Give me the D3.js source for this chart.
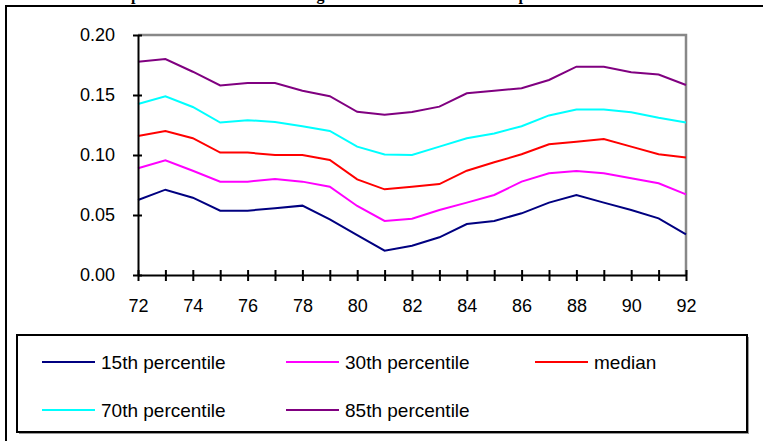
<!DOCTYPE html>
<html><head><meta charset="utf-8">
<script src="https://cdn.jsdelivr.net/npm/d3@7"></script>
<style>body{margin:0;background:#fff;} svg{display:block;}</style>
</head><body>
<svg id="c" width="763" height="441"></svg>
<script>
const years = d3.range(72, 93);
const p15 = [0.0625,0.0711,0.0644,0.0536,0.0536,0.0556,0.0578,0.0464,0.0333,0.0203,0.0244,0.0314,0.0425,0.0450,0.0514,0.0603,0.0667,0.0603,0.0542,0.0472,0.0339];
const p30 = [0.0889,0.0956,0.0869,0.0778,0.0778,0.0800,0.0778,0.0736,0.0575,0.0450,0.0469,0.0542,0.0603,0.0667,0.0778,0.0847,0.0867,0.0847,0.0806,0.0764,0.0672];
const pMed = [0.1158,0.1200,0.1140,0.1020,0.1020,0.1000,0.1000,0.0958,0.0797,0.0714,0.0736,0.0758,0.0869,0.0939,0.1006,0.1090,0.1110,0.1133,0.1070,0.1006,0.0980];
const p70 = [0.1425,0.1490,0.1400,0.1270,0.1290,0.1275,0.1240,0.1200,0.1070,0.1005,0.1000,0.1070,0.1140,0.1180,0.1240,0.1330,0.1380,0.1380,0.1356,0.1310,0.1270];
const p85 = [0.1778,0.1800,0.1694,0.1580,0.1600,0.1600,0.1536,0.1490,0.1360,0.1335,0.1358,0.1403,0.1514,0.1536,0.1556,0.1625,0.1736,0.1736,0.1690,0.1670,0.1583];
const seriesNames = ["15th percentile","30th percentile","median","70th percentile","85th percentile"];
const seriesColors = ["#000080","#ff00ff","#ff0000","#00ffff","#800080"];
const yTicks = [0, 0.05, 0.10, 0.15, 0.20];
const xLabelTicks = d3.range(72, 93, 2);
const titleText = "Time series of percentiles of cross-section growth rates: all U.S. Census plants";

const svg = d3.select("#c");
const font = "'Liberation Sans', Arial, sans-serif";

// outer frame
svg.append("rect").attr("x",6).attr("y",6).attr("width",800).attr("height",500)
  .attr("fill","none").attr("stroke","#000").attr("stroke-width",2);
// title (mostly clipped above the frame, as in the reference)
const title = svg.append("text").attr("x",32).attr("y",0)
  .attr("font-family","'Liberation Serif', 'Times New Roman', serif").attr("font-weight","bold")
  .attr("font-size",16).text(titleText);
try {
  const idx = titleText.indexOf("percentiles");
  const px = title.node().getStartPositionOfChar(idx).x;
  title.attr("x", 32 + (131 - px));
} catch(e) {}

const x = d3.scaleLinear().domain([72,92]).range([138,686]);
const y = d3.scaleLinear().domain([0,0.20]).range([275,35]);

// plot border (gray top/right)
svg.append("path").attr("d",`M${x(72)},${y(0.2)}H${x(92)}V${y(0)}`)
  .attr("fill","none").attr("stroke","#888").attr("stroke-width",2.5);

// lines
const data = [p15,p30,pMed,p70,p85];
const line = d3.line().x((d,i)=>x(years[i])).y(d=>y(d));
data.forEach((s,k)=>{
  svg.append("path").datum(s).attr("d",line).attr("fill","none")
    .attr("stroke",seriesColors[k]).attr("stroke-width",2);
});

// y axis
const yAxis = svg.append("g").attr("transform",`translate(${x(72)},0)`)
  .call(d3.axisLeft(y).tickValues(yTicks).tickFormat(d3.format(".2f")).tickSize(0).tickPadding(23));
yAxis.select(".domain").attr("stroke","#000").attr("stroke-width",2);
yAxis.selectAll("text").attr("font-family",font).attr("font-size",18).attr("fill","#000");
yAxis.selectAll(".tick").append("line").attr("x1",-5).attr("x2",4).attr("stroke","#000").attr("stroke-width",2);

// x axis
const xAxis = svg.append("g").attr("transform",`translate(0,${y(0)})`)
  .call(d3.axisBottom(x).tickValues(years).tickSize(0).tickPadding(24).tickFormat(d=> xLabelTicks.includes(d)? d : ""));
xAxis.select(".domain").attr("stroke","#000").attr("stroke-width",2);
xAxis.selectAll("text").attr("font-family",font).attr("font-size",18).attr("fill","#000");
xAxis.selectAll(".tick").append("line").attr("y1",-5).attr("y2",6).attr("stroke","#000").attr("stroke-width",2);

// legend
svg.append("rect").attr("x",19).attr("y",337).attr("width",730).attr("height",97).attr("fill","#999");
svg.append("rect").attr("x",17).attr("y",335).attr("width",730).attr("height",97)
  .attr("fill","#fff").attr("stroke","#000").attr("stroke-width",2);
const legPos = [[42,362],[286,362],[535,362],[42,410],[286,410]];
seriesNames.forEach((n,k)=>{
  const [lx,ly] = legPos[k];
  svg.append("line").attr("x1",lx).attr("x2",lx+53).attr("y1",ly).attr("y2",ly)
    .attr("stroke",seriesColors[k]).attr("stroke-width",2);
  svg.append("text").attr("x",lx+59).attr("y",ly+7).attr("font-family",font).attr("font-size",19)
    .attr("fill","#000").text(n);
});
</script>
</body></html>
